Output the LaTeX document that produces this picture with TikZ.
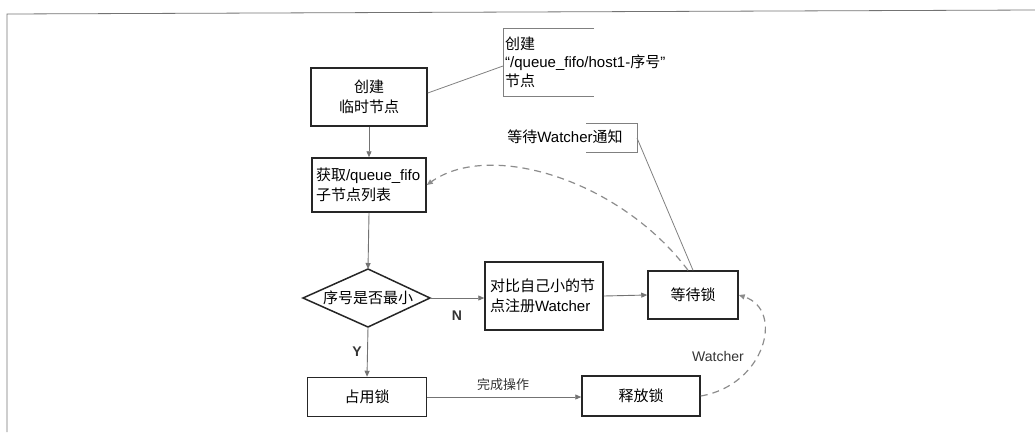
\documentclass[tikz,border=0pt]{standalone}
\usepackage{fontspec}
\setmainfont{Liberation Sans}
\newfontfamily\cjk{Noto Sans CJK SC}
\newcommand\zh[1]{{\cjk #1}}
\usetikzlibrary{arrows.meta}
\tikzset{
  box/.style={draw=black!85, line width=1.5pt, inner sep=2pt, align=center,
    font=\fontsize{15}{20}\selectfont},
  conn/.style={draw=black!55, line width=0.9pt, -{Triangle[length=6pt,width=5pt]}},
  dconn/.style={draw=black!45, line width=1.2pt, dash pattern=on 7pt off 5pt,
    -{Triangle[length=6pt,width=5pt]}},
  note/.style={draw=black!50, line width=0.8pt},
  lbl/.style={font=\fontsize{14}{16}\selectfont, text=black!80},
  frame/.style={draw=black!55, line width=0.8pt}
}
\begin{document}
\begin{tikzpicture}[x=1pt,y=-1pt]
\useasboundingbox (0,0) rectangle (1035,432);
% page frame
\draw[frame] (7,432) -- (7,14) -- (1035,10);

% boxes
\node[box, minimum width=116pt, minimum height=58pt] (b1) at (369,97)
  {\zh{创建}\\\zh{临时节点}};
\node[box, minimum width=114pt, minimum height=54pt, text width=106pt, align=left] (b2) at (369,185)
  {\zh{获取}/queue\_fifo\\\zh{子节点列表}};
\node[box, minimum width=118pt, minimum height=68pt, text width=108pt, align=left] (cmp) at (544,296)
  {\zh{对比自己小的节}\\\zh{点注册}Watcher};
\node[box, minimum width=90pt, minimum height=48pt] (wait) at (693,295) {\zh{等待锁}};
\node[box, minimum width=119pt, minimum height=39pt] (use) at (367,397) {\zh{占用锁}};
\node[box, minimum width=118pt, minimum height=40pt] (rel) at (641,396) {\zh{释放锁}};

% diamond
\coordinate (dT) at (368,269);
\coordinate (dR) at (430,298);
\coordinate (dB) at (368,327);
\coordinate (dL) at (303,298);
\draw[draw=black!85, line width=1.5pt, line join=miter] (dT) -- (dR) -- (dB) -- (dL) -- cycle;
\node[font=\fontsize{15}{18}\selectfont, inner sep=0pt] (dtext) at (368,298) {\zh{序号是否最小}};

% solid connectors
\draw[conn] (b1.south) -- (b2.north);
\draw[conn] (b2.south) -- (dT);
\draw[conn] (dR) -- (cmp.west |- dR);
\draw[conn] (cmp.east) -- (wait.west);
\draw[conn] (dB) -- (use.north);
\draw[conn] (use.east) -- (rel.west |- use.east);

% labels
\node[lbl, font=\bfseries\fontsize{14}{16}\selectfont] (lN) at (457,316) {N};
\node[lbl, font=\bfseries\fontsize{14}{16}\selectfont] (lY) at (357,352) {Y};
\node[lbl, font=\fontsize{13}{16}\selectfont] (lop) at (503,385) {\zh{完成操作}};
\node[lbl] (lw) at (718,356) {Watcher};

% dashed connectors
\draw[dconn] ([xshift=-5pt]wait.north) .. controls (620,180) and (490,140) .. (b2.east);
\draw[dconn] (rel.east) .. controls (765,385) and (785,310) .. (wait.east);

% callout 1
\coordinate (c1) at (503,66);
\draw[note] (594,28) -- (503,28) -- (503,96) -- (594,96);
\node[font=\fontsize{15}{18.5}\selectfont, align=left, anchor=west, inner sep=0pt] (n1) at (505,62)
  {\zh{创建}\\“/queue\_fifo/host1-\zh{序号}”\\\zh{节点}};
\draw[note] ([yshift=4pt]b1.east) -- (c1);

% callout 2
\coordinate (c2) at (637,138);
\draw[note] (586,123) -- (637,123) -- (637,152) -- (586,152);
\node[font=\fontsize{15}{18}\selectfont, inner sep=0pt] (n2) at (565,137)
  {\zh{等待}Watcher\zh{通知}};
\draw[note] (c2) -- (wait.north);
\end{tikzpicture}
\end{document}
